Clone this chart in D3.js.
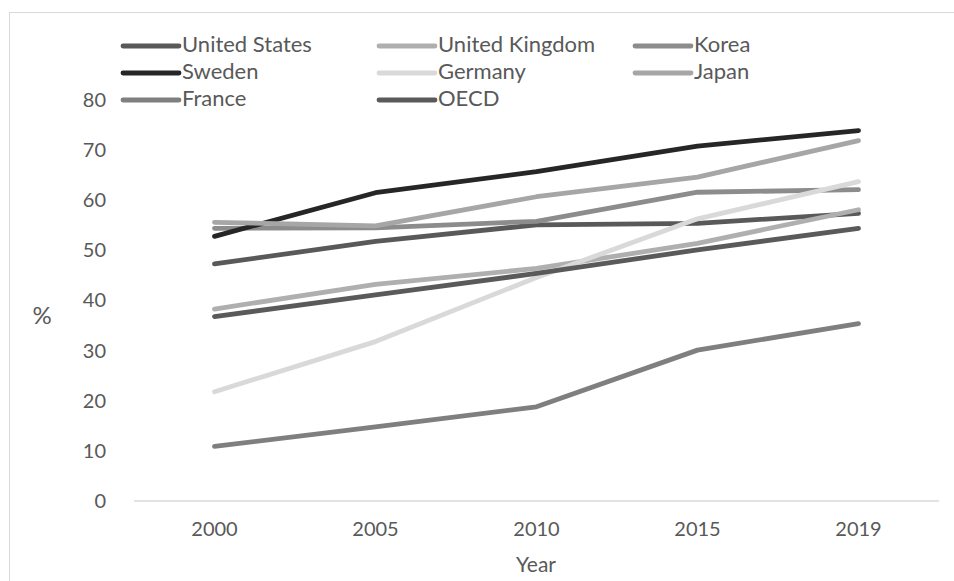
<!DOCTYPE html>
<html><head><meta charset="utf-8">
<script src="https://cdn.jsdelivr.net/npm/d3@7"></script>
<style>body{margin:0;background:#fff}svg{display:block}text{font-family:Lato,"Open Sans",sans-serif}</style>
</head><body><svg id="c" width="954" height="581"></svg>
<script>
const years = ["2000","2005","2010","2015","2019"];
const seriesNames = ["United States","United Kingdom","Korea","Sweden","Germany","Japan","France","OECD"];
const unitedStates = [47.3, 51.8, 55.1, 55.4, 57.4];
const unitedKingdom = [38.3, 43.2, 46.4, 51.4, 58.1];
const korea = [54.4, 54.5, 55.8, 61.6, 62.1];
const sweden = [52.8, 61.5, 65.7, 70.8, 73.9];
const germany = [21.8, 31.8, 44.6, 56.3, 63.7];
const japan = [55.6, 54.9, 60.7, 64.6, 71.9];
const france = [10.9, 14.8, 18.8, 30.1, 35.4];
const oecd = [36.8, 41.1, 45.4, 50.1, 54.4];
const yTicks = [0,10,20,30,40,50,60,70,80];
const colors = ["#595959","#afafaf","#8c8c8c","#262626","#d9d9d9","#a6a6a6","#7f7f7f","#5a5a5a"];
const values = [unitedStates, unitedKingdom, korea, sweden, germany, japan, france, oecd];
const FONT = "Lato";

const svg = d3.select("#c");
svg.append("rect").attr("x",9.5).attr("y",12.5).attr("width",980).attr("height",600)
  .attr("fill","#fff").attr("stroke","#d9d9d9").attr("stroke-width",1);

const x = d3.scaleBand().domain(years).range([134,939]);
const y = d3.scaleLinear().domain([0,80]).range([501,100]);

svg.append("line").attr("x1",134).attr("x2",939).attr("y1",y(0)).attr("y2",y(0))
  .attr("stroke","#d9d9d9").attr("stroke-width",1.3);

const xa = svg.append("g").attr("transform",`translate(0,${y(0)})`)
  .call(d3.axisBottom(x).tickSize(0).tickPadding(21));
xa.select(".domain").remove();
xa.selectAll("text").attr("font-size",20).attr("fill","#595959").attr("font-family",FONT);

const ya = svg.append("g").attr("transform","translate(112,0)")
  .call(d3.axisLeft(y).tickValues(yTicks).tickSize(0).tickPadding(6));
ya.select(".domain").remove();
ya.selectAll("text").attr("font-size",20).attr("fill","#595959").attr("font-family",FONT);

svg.append("text").attr("x",42).attr("y",318).attr("text-anchor","middle").attr("dominant-baseline","middle")
  .attr("font-size",24).attr("fill","#595959").text("%");
svg.append("text").attr("x",536).attr("y",567).attr("text-anchor","middle").attr("dominant-baseline","middle")
  .attr("font-size",21).attr("fill","#595959").text("Year");

const line = d3.line().x((d,i)=>x(years[i])+x.bandwidth()/2).y(d=>y(d));
values.forEach((v,i)=>{
  svg.append("path").attr("d",line(v)).attr("fill","none").attr("stroke",colors[i])
    .attr("stroke-width",4.8).attr("stroke-linecap","round").attr("stroke-linejoin","round");
});

const colX = [123, 379, 635];
const rowY = [46, 73, 100];
seriesNames.forEach((n,i)=>{
  const cx = colX[i%3], cy = rowY[Math.floor(i/3)];
  svg.append("line").attr("x1",cx).attr("x2",cx+56).attr("y1",cy).attr("y2",cy)
    .attr("stroke",colors[i]).attr("stroke-width",4.8).attr("stroke-linecap","round");
  svg.append("text").attr("x",cx+59).attr("y",cy).attr("dominant-baseline","middle")
    .attr("font-size",22).attr("fill","#595959").text(n);
});
</script></body></html>
